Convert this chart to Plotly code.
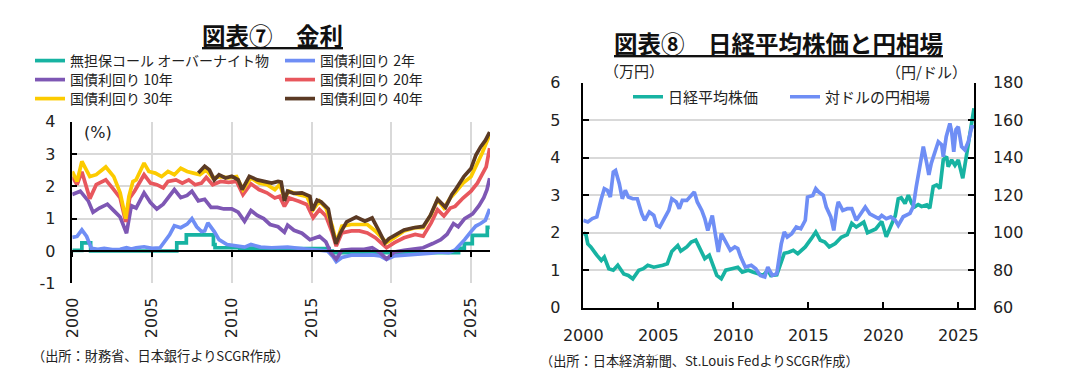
import plotly.graph_objects as go

# ---------------- Chart 7: interest rates (%) ----------------
call_x = [2000.0, 2000.6, 2001.15, 2006.55, 2007.15, 2008.85, 2008.95, 2010.5, 2013.0, 2016.1, 2016.3,
          2024.22, 2024.58, 2025.08, 2026.02, 2026.17]
call_y = [0.02, 0.25, 0.0, 0.25, 0.5, 0.2, 0.1, 0.09, 0.07, 0.0, -0.05,
          0.08, 0.23, 0.48, 0.73, 0.73]

jgb2_x = [2000.0, 2000.3, 2000.6, 2000.9, 2001.2, 2001.6, 2002.0, 2002.5, 2003.0, 2003.4, 2003.7, 2004.0,
          2004.5, 2005.0, 2005.5, 2005.8, 2006.1, 2006.4, 2006.8, 2007.2, 2007.5, 2007.8, 2008.1, 2008.3,
          2008.5, 2008.9, 2009.2, 2009.7, 2010.3, 2010.8, 2011.2, 2011.8, 2012.5, 2013.5, 2014.5, 2015.5,
          2016.0, 2016.3, 2016.55, 2016.9, 2017.5, 2018.2, 2018.8, 2019.3, 2019.7, 2020.2, 2021.0, 2021.8,
          2022.5, 2023.0, 2023.6, 2024.0, 2024.3, 2024.6, 2025.0, 2025.3, 2025.6, 2025.9, 2026.17]
jgb2_y = [0.42, 0.45, 0.65, 0.45, 0.08, 0.05, 0.08, 0.04, 0.05, 0.1, 0.06, 0.1,
          0.13, 0.08, 0.1, 0.3, 0.5, 0.78, 0.72, 0.83, 1.0, 0.75, 0.6, 0.62,
          0.87, 0.6, 0.35, 0.2, 0.15, 0.12, 0.2, 0.12, 0.1, 0.12, 0.07, 0.02,
          0.0, -0.15, -0.33, -0.2, -0.13, -0.13, -0.12, -0.15, -0.26, -0.15, -0.13, -0.1,
          -0.07, -0.03, -0.05, 0.03, 0.18, 0.35, 0.6, 0.77, 0.85, 0.95, 1.3]

jgb10_x = [2000.0, 2000.5, 2001.0, 2001.3, 2001.7, 2002.2, 2002.6, 2003.0, 2003.4, 2003.7, 2004.0, 2004.5,
           2004.9, 2005.3, 2005.7, 2006.0, 2006.4, 2006.8, 2007.2, 2007.5, 2007.9, 2008.3, 2008.7, 2009.1,
           2009.5, 2010.0, 2010.4, 2010.8, 2011.2, 2011.6, 2012.0, 2012.4, 2012.9, 2013.3, 2013.5, 2013.9,
           2014.4, 2014.9, 2015.2, 2015.5, 2015.9, 2016.2, 2016.55, 2016.9, 2017.5, 2018.3, 2018.8, 2019.3,
           2019.7, 2020.2, 2020.8, 2021.4, 2022.0, 2022.6, 2023.1, 2023.5, 2023.9, 2024.2, 2024.6, 2025.1,
           2025.5, 2025.8, 2026.0, 2026.17]
jgb10_y = [1.75, 1.85, 1.55, 1.2, 1.33, 1.45, 1.25, 1.05, 0.55, 1.4, 1.33, 1.8,
           1.5, 1.3, 1.45, 1.65, 1.9, 1.65, 1.72, 1.85, 1.55, 1.6, 1.35, 1.35,
           1.3, 1.3, 1.2, 0.92, 1.25, 1.1, 1.0, 0.82, 0.75, 0.58, 0.8, 0.64,
           0.55, 0.35, 0.4, 0.45, 0.28, -0.05, -0.25, 0.02, 0.05, 0.05, 0.1, -0.05,
           -0.25, -0.03, 0.02, 0.05, 0.1, 0.23, 0.35, 0.52, 0.85, 0.75, 1.0, 1.15,
           1.4, 1.65, 1.9, 2.25]

jgb20_x = [2000.0, 2000.3, 2000.6, 2000.9, 2001.1, 2001.5, 2002.1, 2002.6, 2003.0, 2003.35, 2003.6, 2003.9,
           2004.5, 2004.9, 2005.3, 2005.7, 2006.0, 2006.5, 2006.9, 2007.3, 2007.7, 2008.1, 2008.4, 2008.8,
           2009.3, 2009.8, 2010.3, 2010.7, 2011.2, 2011.7, 2012.2, 2012.7, 2013.0, 2013.3, 2013.6, 2014.2,
           2014.7, 2015.1, 2015.5, 2015.9, 2016.3, 2016.55, 2016.9, 2017.5, 2018.0, 2018.5, 2019.0, 2019.7,
           2020.2, 2020.8, 2021.5, 2022.0, 2022.5, 2022.9, 2023.3, 2023.7, 2024.0, 2024.5, 2025.0, 2025.4,
           2025.7, 2025.95, 2026.17]
jgb20_y = [2.3, 2.05, 2.45, 2.0, 1.62, 2.05, 2.2, 1.9, 1.64, 0.9, 1.64, 1.85,
           2.36, 2.1, 2.05, 1.95, 2.15, 2.2, 2.1, 2.2, 2.05, 2.1, 2.28, 2.05,
           2.15, 2.12, 2.15, 1.74, 2.08, 1.9, 1.8, 1.64, 1.69, 1.38, 1.64, 1.54,
           1.44, 1.03, 1.28, 1.08, 0.56, 0.15, 0.56, 0.62, 0.62, 0.56, 0.41, 0.1,
           0.26, 0.41, 0.51, 0.46, 0.87, 1.28, 1.08, 1.33, 1.38, 1.64, 1.85, 2.1,
           2.36, 2.6, 3.18]

jgb30_x = [2000.0, 2000.3, 2000.6, 2000.9, 2001.1, 2001.5, 2002.1, 2002.6, 2003.0, 2003.35, 2003.55, 2003.8,
           2004.0, 2004.5, 2004.8, 2005.2, 2005.6, 2006.0, 2006.4, 2006.8, 2007.2, 2007.6, 2008.0, 2008.4,
           2008.8, 2009.3, 2009.8, 2010.3, 2010.7, 2011.2, 2011.7, 2012.2, 2012.7, 2013.0, 2013.3, 2013.6,
           2014.2, 2014.7, 2015.1, 2015.5, 2015.9, 2016.3, 2016.55, 2016.9, 2017.5, 2018.0, 2018.5, 2019.0,
           2019.7, 2020.2, 2020.8, 2021.5, 2022.0, 2022.5, 2022.9, 2023.3, 2023.7, 2024.0, 2024.5, 2025.0,
           2025.4, 2025.7, 2026.17]
jgb30_y = [2.46, 2.15, 2.77, 2.46, 2.3, 2.36, 2.6, 2.3, 1.8, 1.0, 1.69, 2.15,
           2.2, 2.72, 2.46, 2.41, 2.3, 2.46, 2.36, 2.56, 2.46, 2.41, 2.36, 2.51,
           2.26, 2.3, 2.26, 2.3, 1.9, 2.26, 2.1, 2.05, 1.9, 2.05, 1.64, 1.85,
           1.74, 1.69, 1.28, 1.54, 1.33, 0.77, 0.26, 0.77, 0.82, 0.82, 0.82, 0.62,
           0.26, 0.41, 0.62, 0.72, 0.72, 1.13, 1.59, 1.33, 1.64, 1.8, 2.1, 2.3,
           2.72, 3.03, 3.6]

jgb40_x = [2007.9, 2008.3, 2008.6, 2008.9, 2009.2, 2009.6, 2010.0, 2010.4, 2010.65, 2011.1, 2011.6, 2012.0,
           2012.5, 2012.9, 2013.1, 2013.3, 2013.5, 2013.9, 2014.4, 2014.9, 2015.05, 2015.35, 2015.6, 2016.05,
           2016.26, 2016.53, 2016.8, 2017.2, 2017.8, 2018.35, 2018.8, 2019.2, 2019.6, 2019.85, 2020.25, 2020.8,
           2021.4, 2022.0, 2022.45, 2022.9, 2023.4, 2023.8, 2024.0, 2024.55, 2025.0, 2025.3, 2025.6, 2025.9,
           2026.17]
jgb40_y = [2.41, 2.62, 2.51, 2.2, 2.36, 2.26, 2.31, 2.2, 1.9, 2.31, 2.2, 2.15,
           2.1, 2.15, 2.13, 1.55, 1.85, 1.78, 1.8, 1.69, 1.25, 1.57, 1.52, 1.3,
           0.75, 0.22, 0.55, 0.9, 1.05, 0.92, 1.02, 0.65, 0.25, 0.38, 0.5, 0.65,
           0.72, 0.76, 1.1, 1.6, 1.35, 1.75, 1.88, 2.3, 2.55, 2.96, 3.22, 3.42,
           3.68]

rate_ticks = [2000, 2005, 2010, 2015, 2020, 2025]
rate_yticks = [-1, 0, 1, 2, 3, 4]
rate_ytick_labels = ["-1", "0", "1", "2", "3", "4"]

# ---------------- Chart 8: Nikkei (10k yen) and USD/JPY ----------------
nikkei_x = [2000.0, 2000.15, 2000.3, 2000.5, 2000.9, 2001.2, 2001.4, 2001.7, 2002.0, 2002.3, 2002.7, 2003.0,
            2003.3, 2003.7, 2004.0, 2004.3, 2004.7, 2005.0, 2005.3, 2005.6, 2005.9, 2006.3, 2006.5, 2006.9,
            2007.2, 2007.5, 2007.8, 2008.1, 2008.4, 2008.7, 2008.9, 2009.2, 2009.5, 2009.9, 2010.3, 2010.6,
            2011.0, 2011.3, 2011.7, 2012.0, 2012.3, 2012.5, 2012.9, 2013.2, 2013.4, 2013.7, 2014.0, 2014.3,
            2014.8, 2015.2, 2015.5, 2015.8, 2016.1, 2016.4, 2016.8, 2017.2, 2017.6, 2017.9, 2018.2, 2018.7,
            2018.95, 2019.5, 2019.9, 2020.2, 2020.5, 2020.8, 2021.0, 2021.2, 2021.45, 2021.67, 2021.9, 2022.1,
            2022.33, 2022.56, 2022.9, 2023.1, 2023.33, 2023.56, 2023.78, 2024.0, 2024.22, 2024.33, 2024.56,
            2024.78, 2025.0, 2025.1, 2025.3, 2025.5, 2025.73, 2025.96, 2026.05]
nikkei_y = [1.93, 2.0, 1.7, 1.62, 1.4, 1.26, 1.35, 1.04, 1.0, 1.13, 0.9, 0.86,
            0.77, 1.0, 1.04, 1.13, 1.08, 1.1, 1.13, 1.17, 1.5, 1.66, 1.51, 1.62,
            1.75, 1.8, 1.57, 1.31, 1.4, 1.08, 0.86, 0.77, 1.0, 1.04, 1.08, 0.95,
            1.0, 0.95, 0.91, 0.86, 1.0, 0.86, 0.88, 1.25, 1.45, 1.48, 1.53, 1.44,
            1.62, 1.84, 2.02, 1.8, 1.75, 1.62, 1.71, 1.88, 1.95, 2.25, 2.15, 2.28,
            2.0, 2.1, 2.3, 1.89, 2.15, 2.45, 2.9, 2.93, 2.78, 3.0, 2.78, 2.69,
            2.75, 2.7, 2.74, 2.65, 3.23, 3.27, 3.18, 3.94, 4.03, 3.76, 3.94,
            3.8, 3.94, 3.76, 3.45, 3.94, 4.47, 5.05, 5.32]

usdjpy_x = [2000.0, 2000.3, 2000.6, 2000.9, 2001.2, 2001.4, 2001.6, 2001.8, 2002.0, 2002.15, 2002.4, 2002.6,
            2002.8, 2003.0, 2003.3, 2003.6, 2003.9, 2004.1, 2004.4, 2004.7, 2004.9, 2005.1, 2005.4, 2005.7,
            2005.9, 2006.2, 2006.4, 2006.6, 2006.9, 2007.1, 2007.4, 2007.6, 2007.9, 2008.1, 2008.3, 2008.6,
            2008.8, 2009.0, 2009.2, 2009.5, 2009.8, 2010.1, 2010.3, 2010.5, 2010.8, 2011.2, 2011.5, 2011.8,
            2012.1, 2012.3, 2012.6, 2012.9, 2013.0, 2013.2, 2013.4, 2013.6, 2013.9, 2014.2, 2014.5, 2014.8,
            2014.95, 2015.3, 2015.5, 2015.7, 2016.0, 2016.2, 2016.5, 2016.7, 2016.9, 2017.0, 2017.3, 2017.6,
            2017.9, 2018.2, 2018.5, 2018.8, 2019.1, 2019.5, 2019.7, 2019.9, 2020.2, 2020.5, 2020.8, 2021.0,
            2021.33, 2021.78, 2022.0, 2022.2, 2022.44, 2022.67, 2022.9, 2023.04, 2023.2, 2023.44, 2023.67,
            2023.9, 2024.0, 2024.2, 2024.44, 2024.56, 2024.7, 2024.85, 2025.0, 2025.22, 2025.44, 2025.67,
            2025.9, 2026.05]
usdjpy_y = [106.6, 105.7, 107.5, 108.4, 118.1, 123.5, 122.6, 119.0, 132.4, 133.2, 126.1, 118.1,
            122.6, 119.0, 118.1, 118.1, 110.1, 106.6, 111.0, 109.2, 103.9, 103.0, 107.5, 111.9,
            118.1, 116.4, 112.8, 117.2, 117.2, 119.0, 121.7, 116.4, 111.9, 107.5, 101.2, 109.2,
            99.5, 89.7, 99.5, 95.0, 90.6, 92.4, 91.5, 87.0, 81.7, 82.6, 80.8, 77.2,
            76.4, 81.7, 77.2, 78.1, 84.4, 94.1, 100.4, 97.7, 99.5, 103.0, 102.1, 106.6,
            119.0, 119.9, 123.5, 121.7, 119.9, 113.7, 108.4, 101.2, 112.8, 116.4, 111.9, 112.8,
            112.8, 106.6, 110.1, 113.7, 110.1, 108.4, 107.5, 109.2, 107.5, 108.4, 106.6, 103.9,
            108.5, 110.3, 113.9, 124.5, 135.2, 145.9, 137.0, 130.8, 137.0, 142.3, 148.5,
            146.8, 140.5, 151.2, 158.3, 153.9, 143.2, 155.0, 156.5, 145.9, 144.1, 148.5,
            156.5, 156.5]

fx_ticks = [2000, 2005, 2010, 2015, 2020, 2025]

# ---------------- styling ----------------
W, H = 1067, 380
JP = "Noto Sans CJK JP"
NUM = "DejaVu Sans"
TXT = "#222222"
GRID = "#d9d9d9"

TEAL = "#17b3a2"
BLUE = "#6f8ef5"
PURPLE = "#7e57b4"
RED = "#e8575d"
YELLOW = "#fccb00"
BROWN = "#5b3a24"


def px_x(p):
    return p / W


def px_y(p):
    return 1 - p / H


# plot areas in pixels
L_X0, L_X1, L_Y0, L_Y1 = 72.3, 490.0, 121.7, 283.3
R_X0, R_X1, R_Y0, R_Y1 = 583.3, 974.0, 82.7, 307.7

fig = go.Figure()

lw = 3.7
left_series = [
    (call_x, call_y, "無担保コール オーバーナイト物", TEAL, "legend", 1, "hv"),
    (jgb2_x, jgb2_y, "国債利回り 2年", BLUE, "legend", 2, "linear"),
    (jgb10_x, jgb10_y, "国債利回り 10年", PURPLE, "legend2", 1, "linear"),
    (jgb20_x, jgb20_y, "国債利回り 20年", RED, "legend2", 2, "linear"),
    (jgb30_x, jgb30_y, "国債利回り 30年", YELLOW, "legend3", 1, "linear"),
    (jgb40_x, jgb40_y, "国債利回り 40年", BROWN, "legend3", 2, "linear"),
]
for xs, ys, name, col, lg, rank, shape in left_series:
    fig.add_trace(go.Scatter(x=xs, y=ys, name=name, mode="lines",
                             line=dict(color=col, width=lw, shape=shape),
                             xaxis="x", yaxis="y", legend=lg, legendrank=rank,
                             hoverinfo="skip"))

# dummy trace so the zero-line axis (x3) is drawn
fig.add_trace(go.Scatter(x=[], y=[], xaxis="x3", yaxis="y", showlegend=False, hoverinfo="skip"))

fig.add_trace(go.Scatter(x=nikkei_x, y=nikkei_y, name="日経平均株価", mode="lines",
                         line=dict(color=TEAL, width=lw), xaxis="x2", yaxis="y2",
                         legend="legend4", legendrank=1, hoverinfo="skip"))
fig.add_trace(go.Scatter(x=usdjpy_x, y=usdjpy_y, name="対ドルの円相場", mode="lines",
                         line=dict(color=BLUE, width=lw), xaxis="x2", yaxis="y3",
                         legend="legend4", legendrank=2, hoverinfo="skip"))

l_dom_x = [px_x(L_X0), px_x(L_X1)]
l_dom_y = [px_y(L_Y1), px_y(L_Y0)]
r_dom_x = [px_x(R_X0), px_x(R_X1)]
r_dom_y = [px_y(R_Y1), px_y(R_Y0)]

l_range_y = [-1, 4]
zero_pos = l_dom_y[0] + (0 - l_range_y[0]) / (l_range_y[1] - l_range_y[0]) * (l_dom_y[1] - l_dom_y[0])

tickfont = dict(family=NUM, size=16, color=TXT)

leg_common = dict(orientation="h", bgcolor="rgba(0,0,0,0)", borderwidth=0,
                  font=dict(family=JP, size=14, color=TXT), xanchor="left", yanchor="middle",
                  entrywidthmode="pixels", itemclick=False, itemdoubleclick=False)

fig.update_layout(
    width=W, height=H,
    margin=dict(l=0, r=0, t=0, b=0, autoexpand=False),
    paper_bgcolor="white", plot_bgcolor="white",
    showlegend=True,
    xaxis=dict(domain=l_dom_x, range=[2000, 2026.19], anchor="y",
               tickvals=rate_ticks, tickformat="d", tickangle=-90, tickfont=tickfont,
               ticks="", ticklabelstandoff=10,
               showgrid=True, gridcolor=GRID, gridwidth=1.5, showline=False, zeroline=False,
               fixedrange=True),
    xaxis3=dict(overlaying="x", anchor="free", position=zero_pos, range=[2000, 2026.19],
                tickvals=rate_ticks, showticklabels=False, ticks="outside", ticklen=5,
                tickcolor="black", tickwidth=1.5, showline=True, linecolor="black", linewidth=1.5,
                showgrid=False, zeroline=False, fixedrange=True),
    yaxis=dict(domain=l_dom_y, range=l_range_y, anchor="x", tickvals=rate_yticks,
               ticktext=rate_ytick_labels, tickfont=tickfont,
               ticks="inside", ticklen=5, tickcolor="black", tickwidth=1.5,
               showline=True, linecolor="black", linewidth=1.5,
               showgrid=True, gridcolor=GRID, gridwidth=1.5, zeroline=False,
               ticklabelstandoff=12, fixedrange=True),
    xaxis2=dict(domain=r_dom_x, range=[2000, 2026.05], anchor="y2",
                tickvals=fx_ticks, tickformat="d", tickfont=tickfont,
                ticks="inside", ticklen=6, tickcolor="black", tickwidth=1.5,
                showline=True, linecolor="black", linewidth=1.5,
                showgrid=False, zeroline=False, ticklabelstandoff=12, fixedrange=True),
    yaxis2=dict(domain=r_dom_y, range=[0, 6], anchor="x2", dtick=1, tickfont=tickfont,
                ticks="inside", ticklen=6, tickcolor="black", tickwidth=1.5,
                showline=True, linecolor="black", linewidth=1.5,
                showgrid=True, gridcolor=GRID, gridwidth=1.5, zeroline=False,
                ticklabelstandoff=18, fixedrange=True),
    yaxis3=dict(overlaying="y2", side="right", anchor="x2", range=[60, 180], dtick=20,
                tickfont=tickfont, ticks="inside", ticklen=6, tickcolor="black", tickwidth=1.5,
                showline=True, linecolor="black", linewidth=1.5,
                showgrid=False, zeroline=False, ticklabelstandoff=14, fixedrange=True),
    legend=dict(leg_common, x=px_x(30), y=px_y(61), entrywidth=205),
    legend2=dict(leg_common, x=px_x(30), y=px_y(80), entrywidth=205),
    legend3=dict(leg_common, x=px_x(30), y=px_y(99), entrywidth=205),
    legend4=dict(leg_common, x=px_x(628), y=px_y(97), entrywidth=112,
                 font=dict(family=JP, size=15, color=TXT)),
)

annos = [
    dict(text="<b><u>図表⑦　金利</u></b>", x=px_x(272.5), y=px_y(35),
         font=dict(family=JP, size=23.5, color="#111111")),
    dict(text="<b><u>図表⑧　日経平均株価と円相場</u></b>", x=px_x(778), y=px_y(43),
         font=dict(family=JP, size=23.5, color="#111111")),
    dict(text="(%)", x=px_x(97.5), y=px_y(132), font=dict(family=NUM, size=16, color=TXT)),
    dict(text="（万円）", x=px_x(634), y=px_y(70), font=dict(family=JP, size=15, color=TXT)),
    dict(text="（円/ドル）", x=px_x(926), y=px_y(71), font=dict(family=JP, size=15, color=TXT)),
    dict(text="（出所：財務省、日本銀行よりSCGR作成）", x=px_x(30), y=px_y(355), xanchor="left",
         font=dict(family=JP, size=13.2, color=TXT)),
    dict(text="（出所：日本経済新聞、St.Louis FedよりSCGR作成）", x=px_x(538), y=px_y(360), xanchor="left",
         font=dict(family=JP, size=13.2, color=TXT)),
]
for a in annos:
    a.setdefault("xanchor", "center")
    fig.add_annotation(xref="paper", yref="paper", showarrow=False, yanchor="middle", **a)

fig.write_html("out.html", config=dict(displayModeBar=False),
               post_script="document.body.style.margin='0';document.body.style.overflow='hidden';")
